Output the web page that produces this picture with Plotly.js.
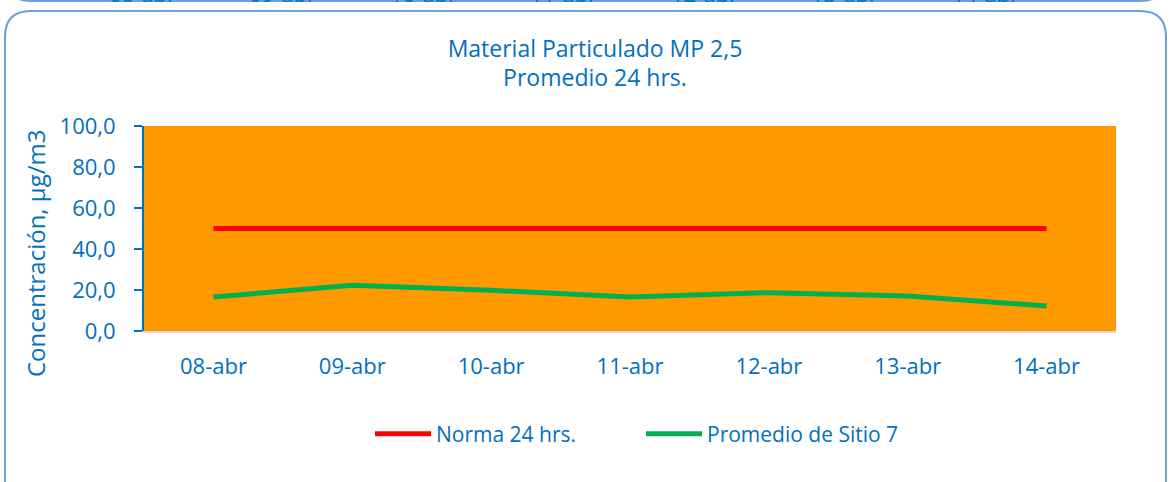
<!DOCTYPE html>
<html>
<head>
<meta charset="utf-8">
<script src="https://cdn.plot.ly/plotly-3.0.1.min.js"></script>
<style>
html,body{margin:0;padding:0;background:#fff;overflow:hidden;}
#chart{width:1171px;height:482px;}
</style>
</head>
<body>
<div id="chart"></div>
<script>
// ---- data ----
var categories = ['08-abr','09-abr','10-abr','11-abr','12-abr','13-abr','14-abr'];
var normaName = 'Norma 24 hrs.';
var normaValues = [50, 50, 50, 50, 50, 50, 50];
var sitioName = 'Promedio de Sitio 7';
var sitioValues = [16.6, 22.3, 19.9, 16.6, 18.7, 17.1, 12.2];
var yTickValues = [0, 20, 40, 60, 80, 100];
var titleText = 'Material Particulado MP 2,5<br>Promedio 24 hrs.';
var yTitleText = 'Concentración, µg/m3';

// ---- layout geometry ----
var W = 1171, H = 482;
var L = 144, R = 55, T = 126, B = 151;
function px(x){ return (x - L) / (W - L - R); }
function py(y){ return (H - B - y) / (H - T - B); }

var FONT = '"Open Sans", Lato, sans-serif';
var BLUE = '#0070C0';
var BORDER = '#6A9FD8';

function roundedPath(x0, y0, x1, y1, r){
  return 'M' + px(x0) + ',' + py(y1) +
    ' L' + px(x0) + ',' + py(y0 + r) +
    ' Q' + px(x0) + ',' + py(y0) + ' ' + px(x0 + r) + ',' + py(y0) +
    ' L' + px(x1 - r) + ',' + py(y0) +
    ' Q' + px(x1) + ',' + py(y0) + ' ' + px(x1) + ',' + py(y0 + r) +
    ' L' + px(x1) + ',' + py(y1);
}
function bottomPath(x0, y1, x1, r){
  return 'M' + px(x0) + ',' + py(y1 - 40) +
    ' L' + px(x0) + ',' + py(y1 - r) +
    ' Q' + px(x0) + ',' + py(y1) + ' ' + px(x0 + r) + ',' + py(y1) +
    ' L' + px(x1 - r) + ',' + py(y1) +
    ' Q' + px(x1) + ',' + py(y1) + ' ' + px(x1) + ',' + py(y1 - r) +
    ' L' + px(x1) + ',' + py(y1 - 40);
}

var traces = [
  {
    x: categories, y: normaValues, name: normaName, type: 'scatter', mode: 'lines',
    line: {color: '#FF0000', width: 5}
  },
  {
    x: categories, y: sitioValues, name: sitioName, type: 'scatter', mode: 'lines',
    line: {color: '#00B050', width: 5}
  }
];

// cut-off tick labels of the chart above
var annotations = categories.map(function(c, i){
  return {
    text: c, xref: 'paper', yref: 'paper',
    x: px(142 + i * 140.5), y: py(-7), xanchor: 'center', yanchor: 'middle',
    showarrow: false, font: {family: FONT, size: 22, color: BLUE}
  };
});
// y-axis title (placed like the reference, below the plot centre)
annotations.push({
  text: yTitleText, xref: 'paper', yref: 'paper',
  x: px(35), y: py(254), xanchor: 'center', yanchor: 'middle',
  textangle: -90, showarrow: false,
  font: {family: FONT, size: 24, color: BLUE}
});

var layout = {
  width: W, height: H,
  margin: {l: L, r: R, t: T, b: B, pad: 0},
  paper_bgcolor: '#FFFFFF',
  plot_bgcolor: '#FF9900',
  separators: ',.',
  font: {family: FONT, color: BLUE},
  title: {
    text: titleText,
    font: {family: FONT, size: 23, color: BLUE},
    xref: 'container', x: 595 / W, xanchor: 'center',
    yref: 'container', y: 1 - 56.5 / H, yanchor: 'middle'
  },
  xaxis: {
    type: 'category',
    range: [-0.5, categories.length - 0.5],
    showgrid: false, zeroline: false,
    showline: true, linecolor: '#D9D9D9', linewidth: 2,
    ticks: '', ticklabelstandoff: 15,
    tickfont: {family: FONT, size: 22, color: BLUE},
    fixedrange: true
  },
  yaxis: {
    range: [0, 100],
    tickvals: yTickValues, tickformat: '.1f',
    showgrid: false, zeroline: false,
    showline: true, linecolor: BLUE, linewidth: 2,
    ticks: 'outside', ticklen: 8, tickwidth: 2, tickcolor: BLUE,
    ticklabelstandoff: 14,
    tickfont: {family: FONT, size: 22, color: BLUE},
    automargin: false,
    fixedrange: true
  },
  showlegend: true,
  legend: {
    orientation: 'h',
    x: px(370), xanchor: 'left',
    y: py(434), yanchor: 'middle',
    itemwidth: 56,
    entrywidth: 200, entrywidthmode: 'pixels',
    font: {family: FONT, size: 21, color: BLUE},
    bgcolor: 'rgba(0,0,0,0)'
  },
  shapes: [
    {type: 'path', xref: 'paper', yref: 'paper', path: roundedPath(5, 11, 1166, 520, 26),
     line: {color: BORDER, width: 2}, layer: 'above'},
    {type: 'path', xref: 'paper', yref: 'paper', path: bottomPath(5, 1, 1166, 26),
     line: {color: BORDER, width: 2}, layer: 'above'}
  ],
  annotations: annotations
};

Plotly.newPlot('chart', traces, layout, {displayModeBar: false, staticPlot: true});
</script>
</body>
</html>
